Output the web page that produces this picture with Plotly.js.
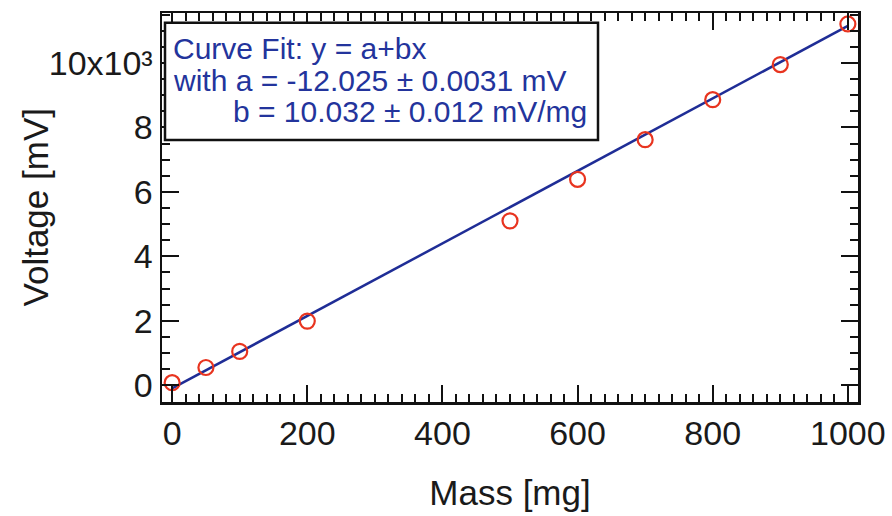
<!DOCTYPE html>
<html>
<head>
<meta charset="utf-8">
<script src="https://cdn.plot.ly/plotly-3.0.1.min.js"></script>
<style>
  html, body { margin: 0; padding: 0; background: #ffffff; }
  #chart { width: 892px; height: 516px; }
</style>
</head>
<body>
<div id="chart"></div>
<script>
// Measured data (mass in mg, voltage in mV)
const massMg = [0, 50, 100, 200, 500, 600, 700, 800, 900, 1000];
const voltageMv = [80, 550, 1050, 1990, 5100, 6390, 7620, 8860, 9950, 11210];

// Fitted line as drawn in the picture
const fitMassMg = [0, 1000];
const fitVoltageMv = [-100, 11150];

// Y tick labels: thousands, top one written as 10x10^3
const yTickAlias = {
  '2k': '2', '4k': '4', '6k': '6', '8k': '8', '10k': '10x10\u00b3'
};

// Axis titles and fit annotation text
const xTitle = 'Mass [mg]';
const yTitle = 'Voltage [mV]';
const fitLines = [
  'Curve Fit: y = a+bx',
  'with a = -12.025 \u00b1 0.0031 mV',
  'b = 10.032 \u00b1 0.012 mV/mg'
];

const FONT = '"Liberation Sans", Arial, Helvetica, sans-serif';
const INK = '#1a1a1a';
const PLOT_L = 162, PLOT_R = 858, PLOT_T = 13, PLOT_B = 402;
const W = PLOT_R - PLOT_L, H = PLOT_B - PLOT_T;
const px2x = p => (p - PLOT_L) / W;
const px2y = p => (PLOT_B - p) / H;

const traces = [
  { x: fitMassMg, y: fitVoltageMv, type: 'scatter', mode: 'lines',
    line: { color: '#1f2d96', width: 2.5 } },
  { x: massMg, y: voltageMv, type: 'scatter', mode: 'markers',
    marker: { symbol: 'circle-open', size: 15, color: '#e8341f', line: { width: 2.2 } } }
];

const axisCommon = {
  showgrid: false, zeroline: false,
  showline: true, linecolor: '#111', linewidth: 2.5, mirror: 'allticks',
  ticks: 'inside', ticklen: 17, tickwidth: 2, tickcolor: '#111',
  tickfont: { family: FONT, size: 34, color: INK }, automargin: false
};

const layout = {
  width: 892, height: 516, showlegend: false,
  margin: { l: PLOT_L, r: 892 - PLOT_R, t: PLOT_T, b: 516 - PLOT_B },
  xaxis: Object.assign({}, axisCommon, {
    range: [-15, 1015], tickmode: 'linear', tick0: 0, dtick: 200,
    minor: { dtick: 20, ticklen: 8, tickwidth: 2, tickcolor: '#111', ticks: 'inside' },
    title: { text: xTitle, font: { family: FONT, size: 35, color: INK }, standoff: 29 }
  }),
  yaxis: Object.assign({}, axisCommon, {
    range: [-520, 11550], tickmode: 'linear', tick0: 0, dtick: 2000,
    labelalias: yTickAlias,
    minor: { dtick: 500, ticklen: 8, tickwidth: 2, tickcolor: '#111', ticks: 'inside' }
  }),
  shapes: [
    { type: 'rect', xref: 'paper', yref: 'paper', layer: 'above',
      x0: px2x(165), x1: px2x(598), y0: px2y(140), y1: px2y(22.7),
      fillcolor: '#ffffff', line: { color: '#111', width: 2.5 } }
  ],
  annotations: [
    { text: yTitle, x: px2x(35), y: 0.5, xref: 'paper', yref: 'paper',
      xanchor: 'center', yanchor: 'middle', textangle: -90, showarrow: false,
      font: { family: FONT, size: 35, color: INK } },
    { text: fitLines[0], x: px2x(171), y: px2y(48), xref: 'paper', yref: 'paper',
      xanchor: 'left', yanchor: 'middle', showarrow: false,
      font: { family: FONT, size: 30, color: '#23349c' } },
    { text: fitLines[1], x: px2x(171), y: px2y(81), xref: 'paper', yref: 'paper',
      xanchor: 'left', yanchor: 'middle', showarrow: false,
      font: { family: FONT, size: 30, color: '#23349c' } },
    { text: fitLines[2], x: px2x(231), y: px2y(111), xref: 'paper', yref: 'paper',
      xanchor: 'left', yanchor: 'middle', showarrow: false,
      font: { family: FONT, size: 30, color: '#23349c' } }
  ]
};

Plotly.newPlot('chart', traces, layout, { staticPlot: true });
</script>
</body>
</html>
